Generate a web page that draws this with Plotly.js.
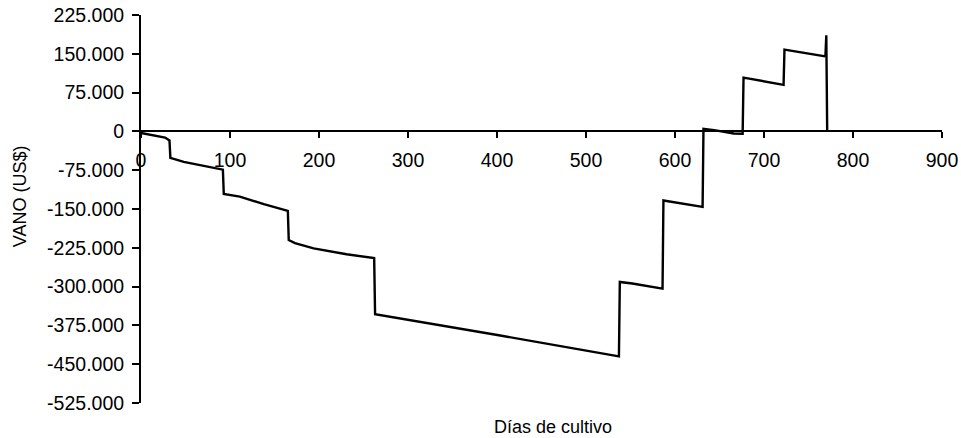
<!DOCTYPE html>
<html>
<head>
<meta charset="utf-8">
<script src="https://cdn.plot.ly/plotly-3.0.1.min.js"></script>
<style>
  html, body { margin: 0; padding: 0; background: #ffffff; }
  #chart { width: 961px; height: 438px; }
</style>
</head>
<body>
<div id="chart"></div>
<script>
// Días de cultivo
const days = [0, 27, 32, 33, 48, 74, 92, 93, 111, 138, 158, 165, 166, 173, 194, 231, 262, 263, 402, 537, 538, 552, 586, 587, 631, 632, 644, 666, 676, 677, 722, 723, 769, 770, 771];
// VANO (US$)
const vano = [-3000, -12000, -17500, -51000, -59000, -67000, -74000, -121000, -126000, -140500, -149500, -153500, -210000, -216000, -226000, -237500, -245000, -353500, -394000, -435000, -291000, -294000, -304000, -133500, -146000, 5000, 2500, -4000, -4500, 104000, 90000, 158000, 145000, 186000, 0];

const xTickVals = [0, 100, 200, 300, 400, 500, 600, 700, 800, 900];
const yTickVals = [225000, 150000, 75000, 0, -75000, -150000, -225000, -300000, -375000, -450000, -525000];
const yTickText = ["225.000", "150.000", "75.000", "0", "-75.000", "-150.000", "-225.000", "-300.000", "-375.000", "-450.000", "-525.000"];

const xTitle = "Días de cultivo";
const yTitle = "VANO (US$)";

const tickFont = { family: "Liberation Sans, Arial, sans-serif", size: 19.5, color: "#000" };
const titleFont = { family: "Liberation Sans, Arial, sans-serif", size: 18, color: "#000" };

const trace = {
  x: days,
  y: vano,
  type: "scatter",
  mode: "lines",
  line: { color: "#000", width: 2.4 },
  hoverinfo: "skip"
};

const layout = {
  width: 961,
  height: 438,
  margin: { l: 141, r: 19, t: 15, b: 35 },
  paper_bgcolor: "#fff",
  plot_bgcolor: "#fff",
  showlegend: false,
  xaxis: {
    range: [0, 900],
    tickvals: xTickVals,
    ticktext: xTickVals.map(String),
    showgrid: false,
    zeroline: false,
    showline: true,
    linecolor: "#000",
    linewidth: 2,
    ticks: "outside",
    ticklen: 6,
    tickwidth: 2,
    tickcolor: "#000",
    tickfont: tickFont,
    ticklabelstandoff: 5,
    anchor: "free",
    position: 0.7
  },
  yaxis: {
    range: [-525000, 225000],
    tickvals: yTickVals,
    ticktext: yTickText,
    showgrid: false,
    zeroline: false,
    showline: true,
    linecolor: "#000",
    linewidth: 2,
    ticks: "outside",
    ticklen: 7,
    tickwidth: 2,
    tickcolor: "#000",
    tickfont: tickFont,
    ticklabelstandoff: 4
  },
  annotations: [
    {
      text: xTitle, xref: "paper", yref: "paper",
      x: 0.514, y: -0.062, xanchor: "center", yanchor: "middle",
      showarrow: false, font: titleFont
    },
    {
      text: yTitle, xref: "paper", yref: "paper",
      x: -0.151, y: 0.533, xanchor: "center", yanchor: "middle",
      textangle: -90, showarrow: false, font: titleFont
    }
  ]
};

Plotly.newPlot("chart", [trace], layout, { displayModeBar: false, staticPlot: true });
</script>
</body>
</html>
